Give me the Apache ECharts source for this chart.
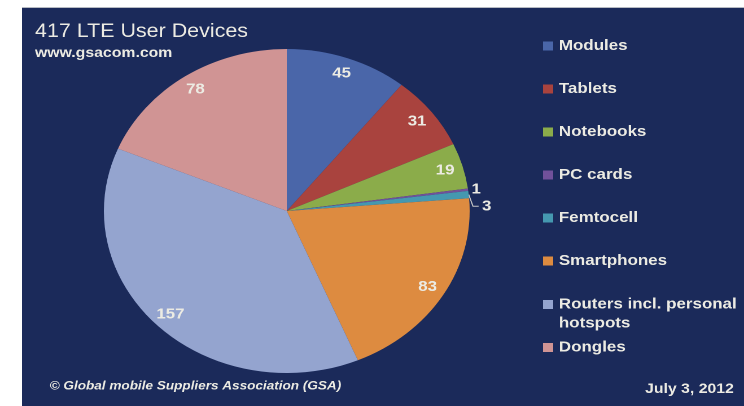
<!DOCTYPE html>
<html>
<head>
<meta charset="utf-8">
<script src="https://cdn.jsdelivr.net/npm/echarts@6/dist/echarts.min.js"></script>
<style>
  html, body { margin: 0; padding: 0; background: #ffffff; }
  /* the original picture is stretched sideways, so the chart is drawn narrow and scaled */
  #chart { position: absolute; left: 0; top: 0; width: 659px; height: 406px;
           transform: scaleX(1.129); transform-origin: 0 0; }
</style>
</head>
<body>
<div id="chart"></div>
<script>
const categories = ['Modules', 'Tablets', 'Notebooks', 'PC cards', 'Femtocell',
  'Smartphones', 'Routers incl. personal hotspots', 'Dongles']
const deviceCounts = [45, 31, 19, 1, 3, 83, 157, 78]
const sliceColors = ['#4a66a9', '#a9433e', '#8bac4a', '#71519a', '#4598b0',
  '#dd8b40', '#94a4cf', '#d09494']

const textColor = '#ecebe3'
const font = '"Liberation Sans", Arial, sans-serif'

const pieData = categories.map((name, i) => ({
  name: name,
  value: deviceCounts[i],
  itemStyle: { color: sliceColors[i] }
}))

// small slices get their number outside the pie
const mainData = pieData.map(d => {
  const item = Object.assign({}, d)
  if (d.value < 5) {
    item.label = { show: true }
    item.labelLine = d.value === 1
      ? { show: false, length: 3, length2: 0 }
      : { show: true, length: 6, length2: 5 }
  }
  return item
})

// transparent ring that carries the inside numbers near the rim
const labelData = pieData.map(d => ({
  name: d.name,
  value: d.value,
  itemStyle: { color: 'rgba(0,0,0,0)' },
  label: { show: d.value >= 5 }
}))

const chart = echarts.init(document.getElementById('chart'), null, { devicePixelRatio: 2 })

const legendText = { color: textColor, fontFamily: font, fontSize: 15, fontWeight: 'bold', lineHeight: 19 }

const option = {
  backgroundColor: 'transparent',
  animation: false,
  color: sliceColors,
  graphic: [
    {
      type: 'rect',
      shape: { x: 19.5, y: 8, width: 640, height: 398 },
      style: { fill: '#1b2a5a' },
      z: -10
    },
    {
      type: 'line',
      shape: { x1: 19.5, y1: 7.5, x2: 659, y2: 7.5 },
      style: { stroke: '#b7bbc3', lineWidth: 1 },
      z: -10
    }
  ],
  title: [
    {
      text: '417 LTE User Devices',
      left: 31,
      top: 21,
      padding: 0,
      textStyle: { color: textColor, fontFamily: font, fontSize: 19, fontWeight: 'normal', lineHeight: 22 }
    },
    {
      text: 'www.gsacom.com',
      left: 31,
      top: 45,
      padding: 0,
      textStyle: { color: textColor, fontFamily: font, fontSize: 14, fontWeight: 'bold', lineHeight: 16 }
    },
    {
      text: '© Global mobile Suppliers Association (GSA)',
      left: 44,
      top: 378,
      padding: 0,
      textStyle: { color: textColor, fontFamily: font, fontSize: 12, fontWeight: 'bold', fontStyle: 'italic', lineHeight: 16 }
    },
    {
      text: 'July 3, 2012',
      right: 9,
      top: 381,
      padding: 0,
      textStyle: { color: textColor, fontFamily: font, fontSize: 14, fontWeight: 'bold', lineHeight: 16 }
    }
  ],
  legend: [
    {
      orient: 'vertical',
      left: 481,
      top: 36.5,
      padding: 0,
      itemGap: 24,
      itemWidth: 9,
      itemHeight: 9,
      icon: 'rect',
      selectedMode: false,
      itemStyle: { borderWidth: 0 },
      data: categories.slice(0, 6),
      textStyle: legendText
    },
    {
      orient: 'vertical',
      left: 481,
      top: 295,
      padding: 0,
      itemWidth: 9,
      itemHeight: 28,
      // square on top, empty tail keeps the box tall so it lines up with the first text line
      icon: 'path://M0,0H9V9H0Z M0,28H9',
      selectedMode: false,
      itemStyle: { borderWidth: 0 },
      data: [categories[6]],
      formatter: () => 'Routers incl. personal\nhotspots',
      textStyle: legendText
    },
    {
      orient: 'vertical',
      left: 481,
      top: 338,
      padding: 0,
      itemWidth: 9,
      itemHeight: 9,
      icon: 'rect',
      selectedMode: false,
      itemStyle: { borderWidth: 0 },
      data: [categories[7]],
      textStyle: legendText
    }
  ],
  series: [
    {
      name: 'devices',
      type: 'pie',
      center: [254, 211],
      radius: [0, 162],
      startAngle: 90,
      clockwise: true,
      avoidLabelOverlap: true,
      silent: true,
      itemStyle: { borderWidth: 0 },
      label: {
        show: false,
        position: 'outside',
        formatter: '{c}',
        color: textColor,
        fontFamily: font,
        fontSize: 15,
        fontWeight: 'bold',
        distanceToLabelLine: 3
      },
      labelLine: {
        lineStyle: { color: '#c8c8c8', width: 1 }
      },
      data: mainData
    },
    {
      name: 'numbers',
      type: 'pie',
      center: [254, 211],
      radius: [124, 162],
      startAngle: 90,
      clockwise: true,
      silent: true,
      legendHoverLink: false,
      label: {
        position: 'inside',
        formatter: '{c}',
        color: textColor,
        fontFamily: font,
        fontSize: 15,
        fontWeight: 'bold'
      },
      labelLine: { show: false },
      data: labelData
    }
  ]
}

chart.setOption(option)
</script>
</body>
</html>
